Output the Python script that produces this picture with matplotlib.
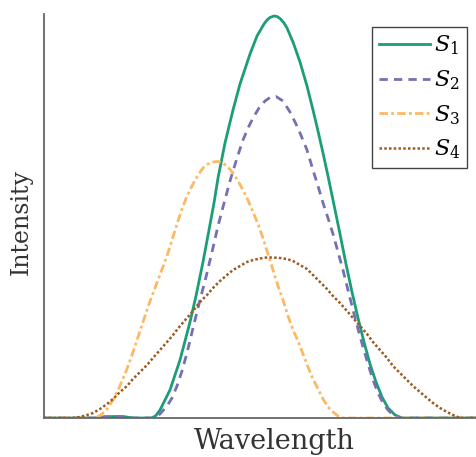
import matplotlib
matplotlib.use("Agg")
import matplotlib.pyplot as plt

# spectra sampled along the wavelength axis (arbitrary units)
s1_wl = [0, 53, 61, 71, 81, 89, 108, 112, 116, 126, 136, 146, 152, 159, 165, 170, 174, 181, 189, 196,
         206, 213, 220, 223, 226, 230, 233, 236, 240, 243, 249, 256, 263, 269, 274, 279, 284, 289,
         296, 302, 308, 314, 320, 326, 332, 338, 344, 351, 358, 433]
s1_int = [0, 0, 1.2, 1.5, 1.2, 0, 0, 2.5, 8, 28, 58, 96, 122, 156, 188, 215, 240, 275, 308, 334,
          364, 382, 394, 398, 400.5, 402, 401.5, 399.5, 395, 390, 376, 356, 332, 308, 287, 265, 242, 218,
          184, 154, 126, 100, 76, 54, 36, 21, 10, 3, 0, 0]

s2_wl = [0, 53, 61, 71, 81, 89, 109, 116, 123, 128, 133, 138, 143, 149, 156, 162, 168, 174, 179, 186,
         193, 199, 204, 209, 215, 221, 226, 232, 239, 246, 252, 256, 263, 269, 274, 279, 284, 289,
         294, 299, 304, 309, 314, 319, 324, 329, 334, 339, 344, 349, 356, 433]
s2_int = [0, 0, 1.2, 1.5, 1.2, 0, 0, 4, 12, 20, 32, 47, 65, 90, 118, 141, 166, 192, 211, 237,
          260, 278, 290, 300, 310, 317, 320.5, 321.5, 317, 306, 294, 285, 268, 248, 232, 215, 200, 184,
          166, 148, 128, 108, 89, 71, 54, 38, 25, 15, 8, 3, 0, 0]

s3_wl = [0, 51, 57, 63, 69, 75, 81, 87, 93, 99, 105, 111, 117, 123, 128, 133, 138, 143, 149, 154,
         159, 164, 169, 174, 179, 184, 189, 194, 199, 204, 209, 214, 219, 224, 229, 234, 239, 244,
         249, 254, 259, 264, 269, 274, 279, 284, 289, 294, 299, 433]
s3_int = [0, 0, 3, 9, 18, 30, 44, 60, 78, 96, 114, 130, 146, 162, 178, 194, 209, 222, 234, 243,
          250, 254, 256, 256.5, 255, 251, 245, 237, 228, 218, 206, 194, 180, 164, 148, 132, 118, 102,
          88, 77, 64, 51, 39, 29, 19, 11, 6, 2, 0, 0]

s4_wl = [0, 29, 36, 43, 49, 56, 63, 69, 76, 83, 89, 96, 103, 109, 116, 123, 129, 136, 143, 149,
         156, 163, 169, 176, 183, 189, 196, 203, 209, 216, 223, 229, 236, 243, 249, 256, 263, 269,
         276, 283, 289, 296, 303, 309, 316, 323, 329, 336, 343, 349, 356, 363, 369, 376, 383, 389,
         396, 403, 409, 416, 433]
s4_int = [0, 0, 1, 3, 5, 9, 14, 19, 26, 32, 39, 46, 53, 60, 68, 76, 83, 92, 100, 107,
          116, 123, 130, 137, 143, 148, 152, 156, 158, 159.5, 160.5, 160.5, 160, 159, 157, 153, 149, 143,
          136, 129, 122, 115, 107, 100, 92, 84, 76, 68, 60, 52, 45, 38, 32, 26, 20, 15,
          10, 6, 3, 0, 0]

labels = [r"$S_1$", r"$S_2$", r"$S_3$", r"$S_4$"]

plt.rcParams["font.family"] = "DejaVu Serif"
plt.rcParams["mathtext.fontset"] = "dejavuserif"

W, H = 477, 457
fig = plt.figure(figsize=(W / 100, H / 100), dpi=100)
ax = fig.add_axes([44 / W, 39 / H, 433 / W, 404 / H])

ax.plot(s1_wl, s1_int, color="#1b9e77", lw=2.0, ls="-", label=labels[0])
ax.plot(s2_wl, s2_int, color="#7570b3", lw=2.0, ls=(0, (3, 2.2)), label=labels[1])
ax.plot(s3_wl, s3_int, color="#fdb863", lw=2.0, ls=(0, (3, 1.2, 1, 1.2)), label=labels[2])
ax.plot(s4_wl, s4_int, color="#9c5a1e", lw=1.8, ls=(0, (1, 0.9)), label=labels[3])

ax.set_xlim(0, 433)
ax.set_ylim(0, 404)
ax.set_xticks([])
ax.set_yticks([])
for side in ["top", "right"]:
    ax.spines[side].set_visible(False)
for side in ["left", "bottom"]:
    ax.spines[side].set_color("#666666")
    ax.spines[side].set_linewidth(1.3)

ax.set_xlabel("Wavelength", fontsize=19.5, color="#333333")
ax.set_ylabel("Intensity", fontsize=17, color="#333333")
ax.xaxis.set_label_coords(0.533, -0.025)
ax.yaxis.set_label_coords(-0.027, 0.485)

leg = ax.legend(loc="upper right", bbox_to_anchor=(467 / W, 1 - 27 / H),
                bbox_transform=fig.transFigure, borderaxespad=0,
                fontsize=16, frameon=True, fancybox=False, framealpha=1,
                handlelength=2.3, handletextpad=0.2, labelspacing=0.5,
                borderpad=0.3)
leg.get_frame().set_edgecolor("#444444")
leg.get_frame().set_linewidth(1.0)

fig.savefig("out.png", dpi=100)
